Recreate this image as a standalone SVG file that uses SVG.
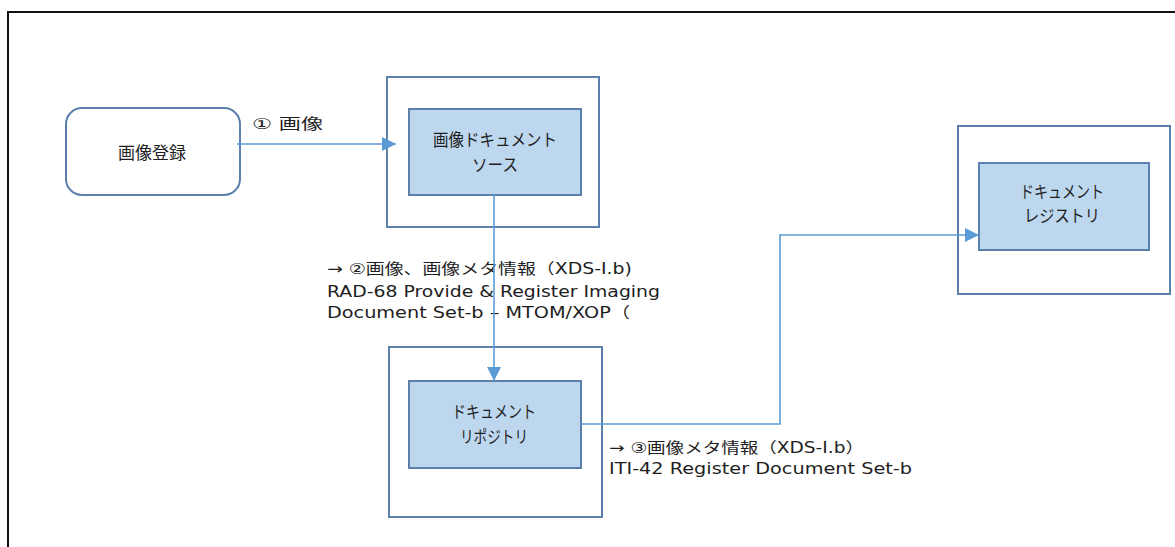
<svg xmlns="http://www.w3.org/2000/svg" width="1175" height="547" viewBox="0 0 1175 547">
<defs>
<style>
.outer{fill:#ffffff;stroke:#5a80ab;stroke-width:2}
.inner{fill:#bdd7ee;stroke:#5a80ab;stroke-width:2}
.conn{fill:none;stroke:#5b9bd5;stroke-width:1.6}
.nt{font-family:"Noto Sans CJK JP","Liberation Sans",sans-serif;font-size:17px;fill:#1e1e1e;text-anchor:middle}
.lb{font-family:"DejaVu Sans","Noto Sans CJK JP",sans-serif;font-size:15px;fill:#1e1e1e}
</style>
<marker id="arr" markerWidth="14" markerHeight="14" refX="14" refY="7" orient="auto" markerUnits="userSpaceOnUse">
<path d="M0,0 L14,7 L0,14 Z" fill="#5b9bd5"/>
</marker>
</defs>
<rect width="1175" height="547" fill="#ffffff"/>
<rect x="8" y="12" width="1220" height="600" fill="none" stroke="#111111" stroke-width="2"/>

<g id="labels">
<text class="lb" x="252" y="129" font-size="17" textLength="71" lengthAdjust="spacingAndGlyphs">①  画像</text>
<text class="lb" x="327" y="274" textLength="305" lengthAdjust="spacingAndGlyphs">→  ②画像、画像メタ情報（XDS-I.b)</text>
<text class="lb" x="327" y="297" textLength="333" lengthAdjust="spacingAndGlyphs">RAD-68 Provide &amp; Register Imaging</text>
<text class="lb" x="327" y="318" textLength="303" lengthAdjust="spacingAndGlyphs">Document Set-b – MTOM/XOP（</text>
<text class="lb" x="609" y="453" textLength="255" lengthAdjust="spacingAndGlyphs">→  ③画像メタ情報（XDS-I.b）</text>
<text class="lb" x="609" y="474" textLength="303" lengthAdjust="spacingAndGlyphs">ITI-42 Register Document Set-b</text>
</g>

<g id="n-register">
<rect x="66" y="108" width="174" height="87" rx="16" ry="16" fill="#ffffff" stroke="#5a80ab" stroke-width="2"/>
<text class="nt" x="152" y="159" font-size="19">画像登録</text>
</g>

<g id="n-source">
<rect class="outer" x="387" y="77" width="212" height="150"/>
<rect class="inner" x="409" y="109" width="172" height="86"/>
<text class="nt" x="495" y="146" textLength="124" lengthAdjust="spacingAndGlyphs">画像ドキュメント</text>
<text class="nt" x="495" y="171" textLength="46" lengthAdjust="spacingAndGlyphs">ソース</text>
</g>

<g id="n-repository">
<rect class="outer" x="389" y="347" width="213" height="170"/>
<rect class="inner" x="409" y="381" width="172" height="87"/>
<text class="nt" x="494" y="418" textLength="84" lengthAdjust="spacingAndGlyphs">ドキュメント</text>
<text class="nt" x="494" y="443" textLength="68" lengthAdjust="spacingAndGlyphs">リポジトリ</text>
</g>

<g id="n-registry">
<rect class="outer" x="958" y="126" width="212" height="168"/>
<rect class="inner" x="979" y="163" width="170" height="87"/>
<text class="nt" x="1062" y="198" textLength="84" lengthAdjust="spacingAndGlyphs">ドキュメント</text>
<text class="nt" x="1062" y="222" textLength="76" lengthAdjust="spacingAndGlyphs">レジストリ</text>
</g>

<g id="connectors">
<path class="conn" d="M237,144 L396,144" marker-end="url(#arr)"/>
<path class="conn" d="M494,195 L494,381" marker-end="url(#arr)"/>
<path class="conn" d="M581,424 L780,424 L780,235 L979,235" marker-end="url(#arr)"/>
</g>
</svg>
